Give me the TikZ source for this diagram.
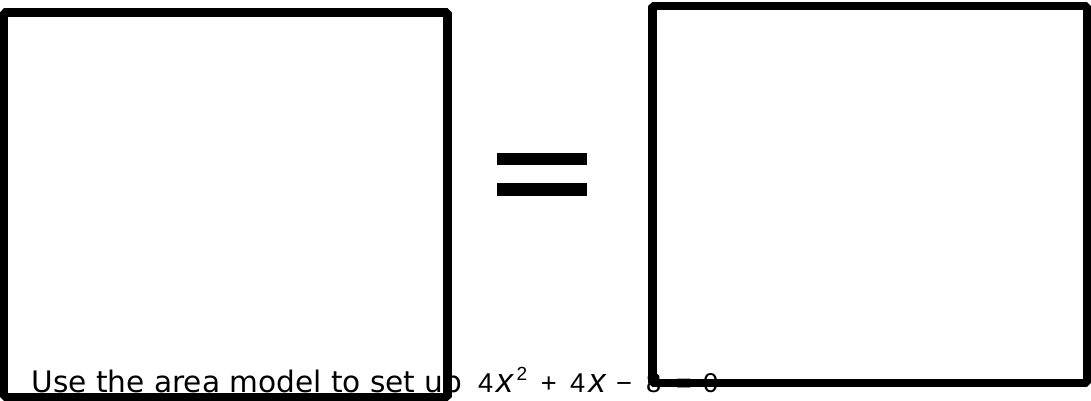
\documentclass[tikz,border=0pt]{standalone}
\usepackage{fontspec}
\newfontfamily\labelfont{DejaVu Sans}
\newfontfamily\eqfont{Liberation Sans}
\newcommand{\at}[2]{\rlap{\hspace{#1pt}#2}}
\begin{document}
\begin{tikzpicture}[x=1pt,y=-1pt,
  areabox/.style={draw=black, line width=8.5pt, line join=bevel},
  eqbar/.style={fill=black, draw=none},
  lbl/.style={anchor=base west, inner sep=0pt, outer sep=0pt}]
\useasboundingbox (0,0) rectangle (1091,401);
\fill[white] (0,0) rectangle (1091,401);
% texts
\node[lbl] (prompt) at (31.5,392.7) {\fontsize{29.6}{34}\labelfont Use the area model to set up};
\node[lbl] (eq) at (477.6,392.7) {\fontsize{27.2}{32}\eqfont
  \at{0}{4}%
  \at{18}{\fontsize{34}{36}\selectfont\itshape x}%
  \at{38.5}{\raisebox{12.4pt}{\fontsize{19}{20}\selectfont 2}}%
  \at{62.8}{+}%
  \at{92}{4}%
  \at{110.5}{\fontsize{34}{36}\selectfont\itshape x}%
  \at{138}{\char"2212}%
  \at{168}{8}%
  \at{197.7}{=}%
  \at{225}{0}%
  \hspace{240pt}};
% left and right area boxes
\coordinate (L1) at (4.2,12.5);
\coordinate (L2) at (447.5,396.8);
\coordinate (R1) at (652.5,6);
\coordinate (R2) at (1087,383);
\draw[areabox] (L1) rectangle (L2);
\draw[areabox] (R1) rectangle (R2);
% equals sign
\fill[eqbar] (497.3,152.7) rectangle (586.7,165);
\fill[eqbar] (497.3,183.3) rectangle (586.7,196);
\end{tikzpicture}
\end{document}
